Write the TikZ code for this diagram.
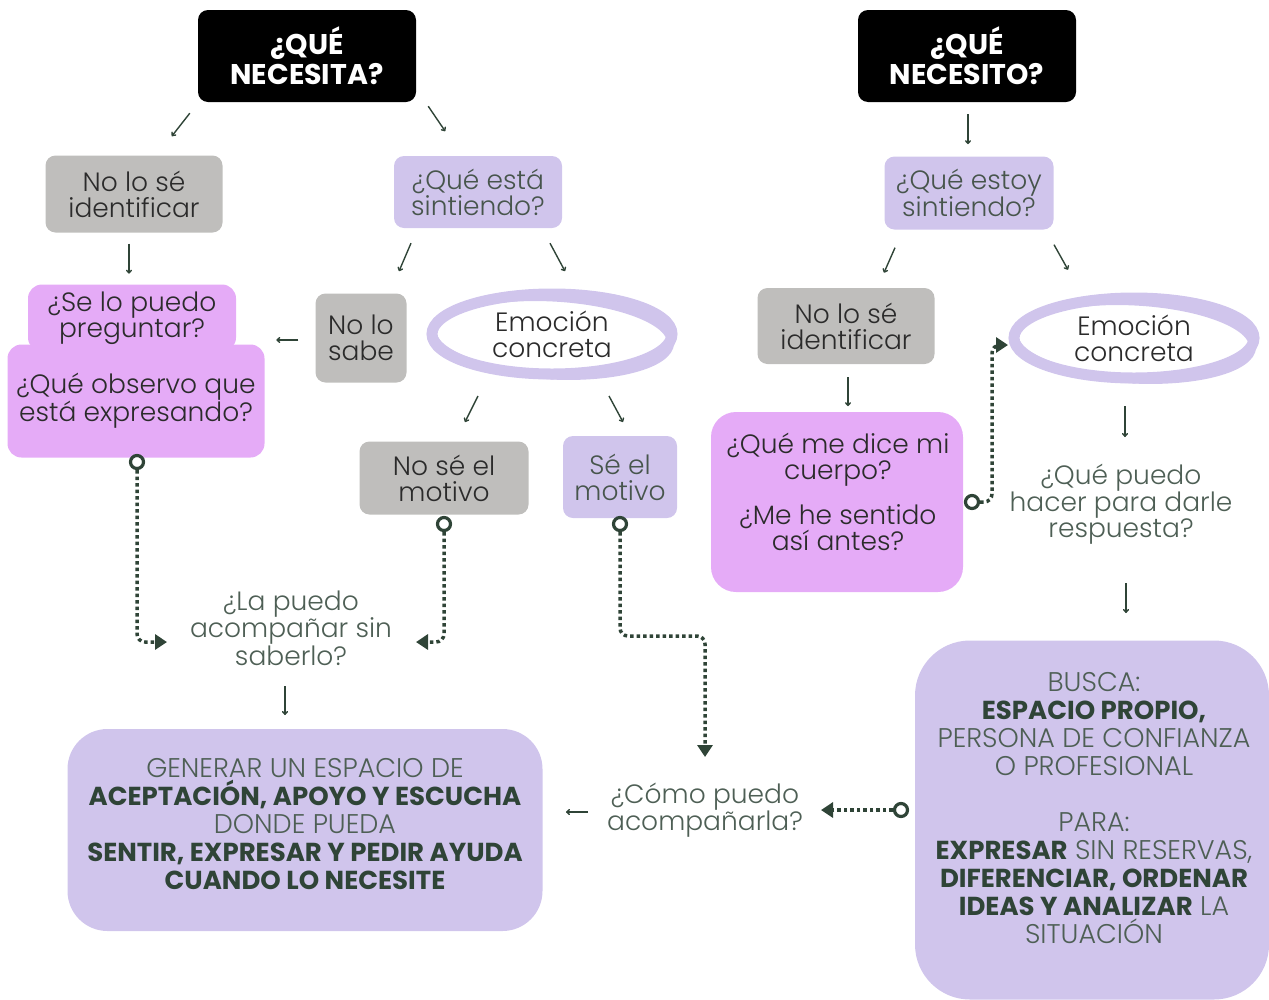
\documentclass[tikz,border=0pt]{standalone}
\usepackage{fontspec}
\setmainfont{Poppins}[UprightFont={* Light}, BoldFont={* Bold}]
\usetikzlibrary{positioning, shapes.geometric, arrows.meta, calc}
\definecolor{lila}{HTML}{D0C5EC}
\definecolor{rosa}{HTML}{E5ABF7}
\definecolor{grisclaro}{HTML}{BFBEBC}
\definecolor{verde}{HTML}{2F4437}
\definecolor{texto}{HTML}{2B2B2B}
\definecolor{suave}{HTML}{4E5F55}
\newcommand{\negrita}[1]{\textcolor{verde}{\fontsize{26}{28}\selectfont\textbf{#1}}}
\tikzset{
  caja/.style={rounded corners=10pt, align=center, text=texto, inner sep=0pt,
    font=\fontsize{26.5}{26}\selectfont},
  negra/.style={caja, fill=black, text=white, font=\bfseries\fontsize{28.5}{30}\selectfont,
    minimum width=218pt, minimum height=92pt},
  cajagris/.style={caja, fill=grisclaro},
  cajalila/.style={caja, fill=lila, text=suave!80!texto},
  cajarosa/.style={caja, fill=rosa, rounded corners=14pt},
  cajagrande/.style={caja, fill=lila, rounded corners=40pt},
  textogrande/.style={align=center, text=suave, inner sep=0pt, font=\fontsize{27}{28}\selectfont},
  pregunta/.style={align=center, text=suave, inner sep=0pt, font=\fontsize{26.5}{26}\selectfont},
  emocion/.style={ellipse, draw=lila, line width=11pt, align=center, text=texto,
    minimum width=240pt, minimum height=80pt, inner sep=0pt, font=\fontsize{26.5}{26}\selectfont},
  pincel/.style={draw=lila, line width=7pt},
  flecha/.style={draw=verde, line width=1.4pt, -{To[length=4pt,width=6pt]}},
  punteado/.style={draw=verde, line width=3.5pt, dash pattern=on 3.5pt off 3pt,
    rounded corners=8pt, -{Triangle[length=12pt,width=15pt]}},
  aro/.style={circle, draw=verde, line width=3.2pt, fill=white, minimum size=13pt, inner sep=0pt}
}
\begin{document}
\begin{tikzpicture}[x=1pt, y=-1pt]
  \useasboundingbox (0,0) rectangle (1269,999);

  % lado izquierdo
  \node[negra] (necesita) at (307,56) {¿QUÉ\\NECESITA?};
  \node[cajagris, minimum width=177pt, minimum height=77pt] (nolose) at (134,194) {No lo sé\\identificar};
  \node[cajalila, minimum width=168pt, minimum height=72pt] (queesta) at (478,192) {¿Qué está\\sintiendo?};
  \node[cajarosa, minimum width=208pt, minimum height=67pt] (selo) at (132,318) {¿Se lo puedo\\preguntar?};
  \node[cajarosa, minimum width=257pt, minimum height=113pt] (observo) at (136,401) {¿Qué observo que\\está expresando?};
  \node[cajagris, minimum width=91pt, minimum height=89pt] (nolosabe) at (361,338) {No lo\\sabe};
  \node[emocion] (emocion) at (552,334) {Emoción\\concreta};
  \draw[pincel, rotate around={-3:(emocion.center)}] ($(emocion.center)+(0,3)$) ellipse (119 and 39);
  \node[cajagris, minimum width=169pt, minimum height=73pt] (nosemotivo) at (444,478) {No sé el\\motivo};
  \node[cajalila, minimum width=114pt, minimum height=82pt] (semotivo) at (620,477) {Sé el\\motivo};
  \node[pregunta] (lapuedo) at (291,628) {¿La puedo\\acompañar sin\\saberlo?};
  \node[cajagrande, minimum width=475pt, minimum height=202pt] (generar) at (305,830) {};
  \node[textogrande] (generartxt) at (305,824)
    {GENERAR UN ESPACIO DE\\
     \negrita{ACEPTACIÓN, APOYO Y ESCUCHA}\\
     DONDE PUEDA\\
     \negrita{SENTIR, EXPRESAR Y PEDIR AYUDA}\\
     \negrita{CUANDO LO NECESITE}};
  \node[pregunta] (comopuedo) at (705,810) {¿Cómo puedo\\acompañarla?};

  \node[aro] (d1) at (137,462) {};
  \node[aro] (d2) at (444,524) {};
  \node[aro] (d3) at (620,524) {};

  % lado derecho
  \node[negra] (necesito) at (967,56) {¿QUÉ\\NECESITO?};
  \node[cajalila, minimum width=169pt, minimum height=73pt] (queestoy) at (969,193) {¿Qué estoy\\sintiendo?};
  \node[cajagris, minimum width=177pt, minimum height=76pt] (nolose2) at (846,326) {No lo sé\\identificar};
  \node[emocion] (emocion2) at (1134,338) {Emoción\\concreta};
  \draw[pincel, rotate around={-3:(emocion2.center)}] ($(emocion2.center)+(0,3)$) ellipse (119 and 39);
  \node[cajarosa, minimum width=252pt, minimum height=180pt, rounded corners=25pt] (cuerpo) at (837,502) {};
  \node[align=center, text=texto, font=\fontsize{26.5}{26}\selectfont] (cuerpotxt) at (838,492)
    {¿Qué me dice mi\\cuerpo?\\[18pt]¿Me he sentido\\así antes?};
  \node[pregunta] (quepuedo) at (1121,504) {¿Qué puedo\\hacer para darle\\respuesta?};
  \node[cajagrande, minimum width=354pt, minimum height=359pt, rounded corners=55pt] (busca) at (1092,820) {};
  \node[textogrande] (buscatxt) at (1094,808)
    {BUSCA:\\
     \negrita{ESPACIO PROPIO,}\\
     PERSONA DE CONFIANZA\\
     O PROFESIONAL\\[28pt]
     PARA:\\
     \negrita{EXPRESAR} SIN RESERVAS,\\
     \negrita{DIFERENCIAR, ORDENAR}\\
     \negrita{IDEAS Y ANALIZAR} LA\\
     SITUACIÓN};

  \node[aro] (d4) at (901,810) {};
  \node[aro] (d5) at (972,502) {};

  % flechas
  \draw[flecha] ($(necesita.south west)+(-8,11)$) -- ++(-18,23);
  \draw[flecha] ($(necesita.south east)+(12,4)$) -- ++(17,25);
  \draw[flecha] ($(nolose.south)+(-5,11)$) -- ++(0,30);
  \draw[flecha] ($(nolosabe.west)+(-17,2)$) -- ++(-22,0);
  \draw[flecha] ($(queesta.south)+(-67,15)$) -- ++(-12,28);
  \draw[flecha] ($(queesta.south)+(72,15)$) -- ++(15,28);
  \draw[flecha] ($(emocion.center)+(-74,62)$) -- ++(-13,26);
  \draw[flecha] ($(emocion.center)+(57,62)$) -- ++(14,26);
  \draw[flecha] ($(lapuedo.center)+(-6,58)$) -- ++(0,29);
  \draw[flecha] ($(comopuedo.center)+(-117,2)$) -- ++(-22,0);
  \draw[flecha] ($(necesito.south)+(1,12)$) -- ++(0,30);
  \draw[flecha] ($(queestoy.south)+(-74,18)$) -- ++(-11,25);
  \draw[flecha] ($(queestoy.south)+(85,15)$) -- ++(14,25);
  \draw[flecha] ($(nolose2.south)+(2,13)$) -- ++(0,29);
  \draw[flecha] ($(emocion2.center)+(-9,68)$) -- ++(0,31);
  \draw[flecha] ($(quepuedo.center)+(5,79)$) -- ++(0,30);

  \draw[punteado] (d1) |- ($(lapuedo.center)+(-124,14)$);
  \draw[punteado] (d2) |- ($(lapuedo.center)+(125,14)$);
  \draw[punteado] (d3) |- ($(comopuedo.center)+(0,-174)$) -- ($(comopuedo.center)+(0,-53)$);
  \draw[punteado] (d4) -- ($(comopuedo.center)+(116,0)$);
  \draw[punteado] (d5) -- ++(20,0) |- ($(emocion2.center)+(-126,7)$);
\end{tikzpicture}
\end{document}
